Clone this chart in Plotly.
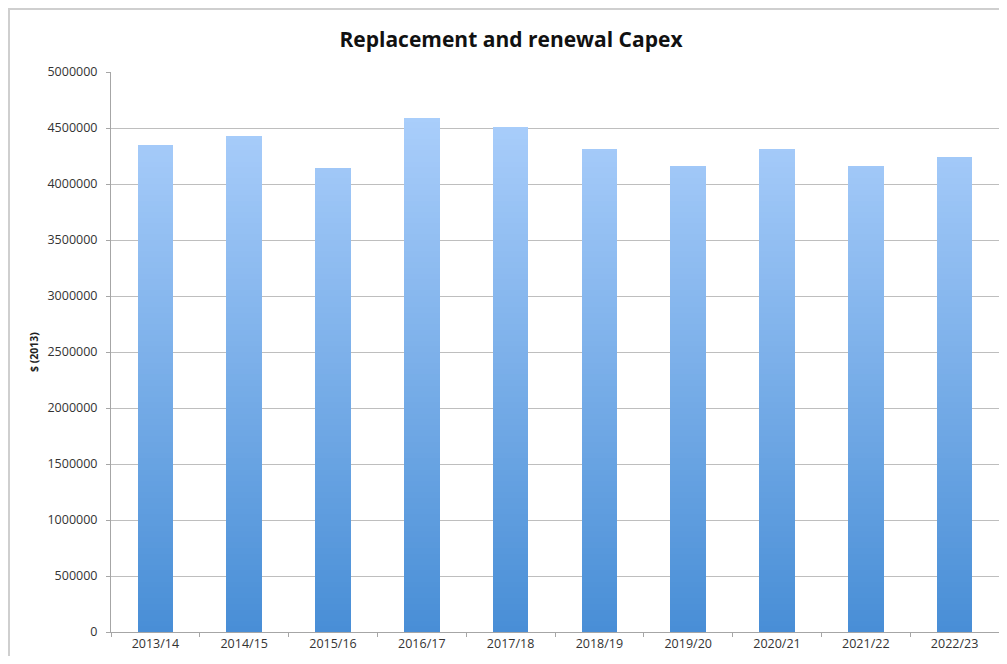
import plotly.graph_objects as go

years = ["2013/14", "2014/15", "2015/16", "2016/17", "2017/18",
         "2018/19", "2019/20", "2020/21", "2021/22", "2022/23"]
capex = [4350000, 4425000, 4145000, 4585000, 4505000,
         4312000, 4152000, 4312000, 4160000, 4242000]

# bars get a vertical gradient: stack thin bands, darker at the bottom
step = 50000
n_bands = int(max(capex) // step) + 1
bottom_rgb = (72, 142, 214)
top_rgb = (170, 206, 251)


def band_colour(k):
    t = min(1.0, (k + 0.5) * step / 4600000)
    r, g, b = [round(a + (c - a) * t) for a, c in zip(bottom_rgb, top_rgb)]
    return f"rgb({r},{g},{b})"


fig = go.Figure()
for k in range(n_bands):
    heights = [max(0, min(step, v - k * step)) for v in capex]
    fig.add_trace(go.Bar(
        x=years, y=heights,
        marker=dict(color=band_colour(k), line=dict(width=0)),
        width=0.4, hoverinfo="skip", showlegend=False,
    ))

font = "'Open Sans', sans-serif"

# the page adds an 8px body margin, so the figure is 16px smaller
fig.update_layout(
    width=991, height=648,
    barmode="stack",
    paper_bgcolor="white", plot_bgcolor="white",
    margin=dict(l=103, r=0, t=64, b=24),
    font=dict(family=font, size=12.5, color="#333333"),
    title=dict(
        text="<b>Replacement and renewal Capex</b>",
        x=503 / 991, xanchor="center", y=1 - 32 / 648, yanchor="middle",
        font=dict(family=font, size=21, color="#111111"),
    ),
    xaxis=dict(
        showline=True, linecolor="#A6A6A6", linewidth=1,
        ticks="outside", ticklen=4, tickcolor="#A6A6A6",
        tickson="boundaries", showgrid=False,
        tickfont=dict(size=12.5, color="#333333"),
    ),
    yaxis=dict(
        range=[0, 5000000], dtick=500000, tickformat="d",
        showline=True, linecolor="#A6A6A6", linewidth=1,
        ticks="outside", ticklen=4, tickcolor="#A6A6A6",
        showgrid=True, gridcolor="#BEBEBE", gridwidth=1,
        zeroline=False, ticklabelstandoff=6,
        tickfont=dict(size=12.5, color="#333333"),
        title=dict(text="<b>$ (2013)</b>", standoff=6,
                   font=dict(size=10.5, color="#222222")),
    ),
    shapes=[dict(
        type="rect", xref="paper", yref="paper",
        x0=(1 - 103) / 888, x1=1.05, y0=-0.2, y1=1 + 63 / 560,
        line=dict(color="#CFCFCF", width=2), layer="below",
    )],
)

fig.write_html("out.html")
